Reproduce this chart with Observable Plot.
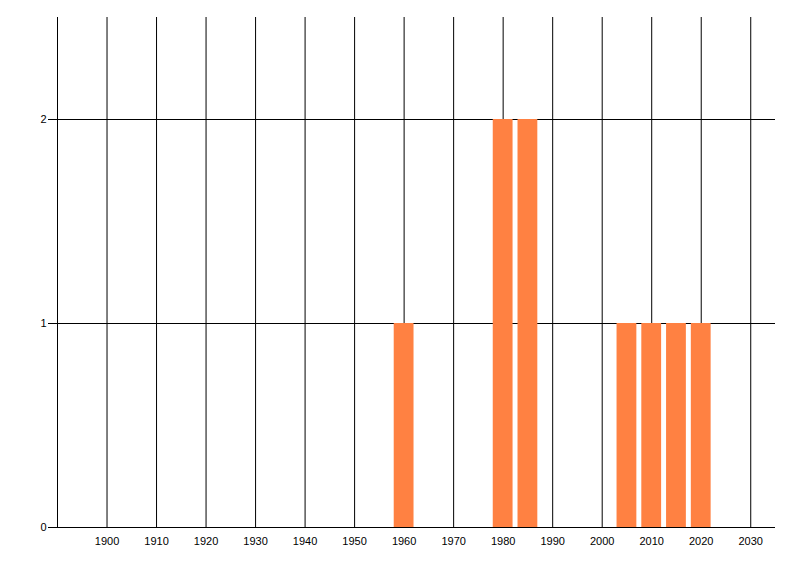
<!DOCTYPE html>
<html>
<head>
<meta charset="utf-8">
<script src="https://cdn.jsdelivr.net/npm/d3@7"></script>
<script src="https://cdn.jsdelivr.net/npm/@observablehq/plot@0.6"></script>
<style>
  body { margin: 0; background: #fff; }
  svg { display: block; }
</style>
</head>
<body>
<div id="chart"></div>
<script>
const years = [1960, 1980, 1985, 2005, 2010, 2015, 2020];
const counts = [1, 2, 2, 1, 1, 1, 1];
const xTicks = [1900, 1910, 1920, 1930, 1940, 1950, 1960, 1970, 1980, 1990, 2000, 2010, 2020, 2030];
const yTicks = [0, 1, 2];
const binHalfWidth = 2;

const data = years.map((y, i) => ({year: y, count: counts[i]}));

const chart = Plot.plot({
  width: 800,
  height: 576,
  marginLeft: 57,
  marginRight: 25,
  marginTop: 17,
  marginBottom: 49,
  style: {fontFamily: "'Liberation Sans', Arial, sans-serif", fontSize: "11px", color: "#000", background: "#fff"},
  x: {domain: [1890, 2035]},
  y: {domain: [0, 2.5]},
  marks: [
    Plot.ruleX(xTicks, {stroke: "#000", strokeWidth: 1, strokeOpacity: 1}),
    Plot.ruleY(yTicks.filter(d => d > 0), {stroke: "#000", strokeWidth: 1}),
    Plot.rectY(data, {x1: d => d.year - binHalfWidth, x2: d => d.year + binHalfWidth, y1: 0, y2: "count", fill: "#ff8142", inset: 0}),
    Plot.ruleX([1890], {stroke: "#000", strokeWidth: 1}),
    Plot.ruleY([0], {stroke: "#000", strokeWidth: 1}),
    Plot.axisX(xTicks, {tickSize: 0, tickPadding: 10, tickFormat: d => String(d), label: null, fontSize: 11, fill: "#000"}),
    Plot.axisY(yTicks, {tickSize: 9, tickPadding: 2, tickFormat: d => String(d), label: null, fontSize: 11, fill: "#000"})
  ]
});
document.getElementById("chart").appendChild(chart);
</script>
</body>
</html>
